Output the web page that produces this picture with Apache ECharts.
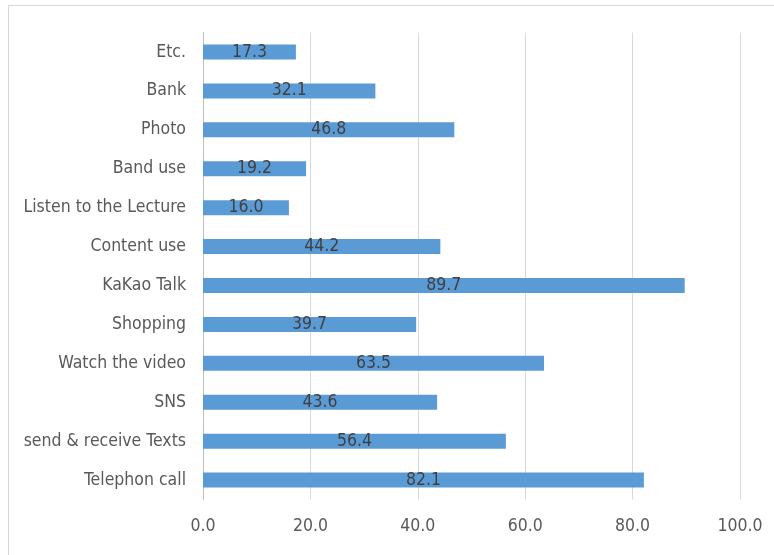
<!DOCTYPE html>
<html>
<head>
<meta charset="utf-8">
<script src="https://cdn.jsdelivr.net/npm/echarts@6/dist/echarts.min.js"></script>
<style>
  html, body { margin: 0; padding: 0; background: #fff; }
  #chart { width: 774px; height: 555px; }
</style>
</head>
<body>
<div id="chart"></div>
<script>
// Smartphone usage purposes (%), listed bottom to top
const categories = [
  'Telephon call', 'send & receive Texts', 'SNS', 'Watch the video', 'Shopping',
  'KaKao Talk', 'Content use', 'Listen to the Lecture', 'Band use', 'Photo', 'Bank', 'Etc.'
];
const values = [82.1, 56.4, 43.6, 63.5, 39.7, 89.7, 44.2, 16.0, 19.2, 46.8, 32.1, 17.3];

const FONT = '"DejaVu Sans Condensed", "Liberation Sans Narrow", sans-serif';

const chart = echarts.init(document.getElementById('chart'), null, { renderer: 'canvas' });
chart.setOption({
  animation: false,
  backgroundColor: '#ffffff',
  grid: { left: 203, right: 34, top: 32.5, bottom: 55.5, containLabel: false },
  xAxis: {
    type: 'value',
    min: 0,
    max: 100,
    interval: 20,
    axisLine: { show: false },
    axisTick: { show: false },
    splitLine: { show: true, lineStyle: { color: '#d9d9d9', width: 1 } },
    axisLabel: {
      margin: 18,
      color: '#595959',
      fontFamily: FONT,
      fontSize: 17.5,
      formatter: v => v.toFixed(1)
    }
  },
  yAxis: {
    type: 'category',
    data: categories,
    axisLine: { show: true, lineStyle: { color: '#bfbfbf', width: 1 } },
    axisTick: { show: false },
    axisLabel: {
      margin: 17,
      color: '#595959',
      fontFamily: FONT,
      fontSize: 17.5
    }
  },
  series: [{
    type: 'bar',
    data: values,
    barWidth: 15,
    itemStyle: { color: '#5b9bd5' },
    label: {
      show: true,
      position: 'inside',
      color: '#404040',
      fontFamily: FONT,
      fontSize: 17.5,
      formatter: p => p.value.toFixed(1)
    }
  }],
  graphic: [
    { type: 'line', shape: { x1: 8, y1: 5.5, x2: 774, y2: 5.5 }, style: { stroke: '#d9d9d9', lineWidth: 1 } },
    { type: 'line', shape: { x1: 8.5, y1: 5, x2: 8.5, y2: 555 }, style: { stroke: '#d9d9d9', lineWidth: 1 } }
  ]
});
</script>
</body>
</html>
